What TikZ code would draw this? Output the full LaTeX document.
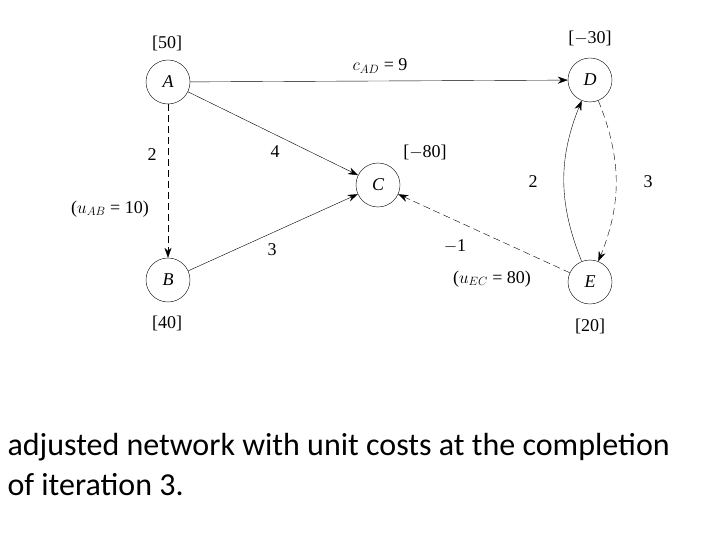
\documentclass[tikz,border=0pt]{standalone}
\usepackage{fontspec}
\setmainfont{Liberation Serif}
\newfontfamily\capfont{Carlito}
\usetikzlibrary{arrows.meta}
\begin{document}
\begin{tikzpicture}[x=1pt,y=-1pt,
  nd/.style={circle,draw,minimum size=44pt,inner sep=0pt,font=\fontsize{18}{20}\selectfont\itshape},
  lb/.style={font=\fontsize{18}{20}\selectfont},
  ar/.style={-{Stealth[length=10pt,width=7pt]},thin},
  ds/.style={dash pattern=on 7pt off 4pt}]
\useasboundingbox (0,0) rectangle (720,540);
\node[nd] (A) at (168,82) {A};
\node[nd] (D) at (590,80) {D};
\node[nd] (C) at (378,185) {C};
\node[nd] (B) at (168,280) {B};
\node[nd] (E) at (590,282) {E};
\node[lb] (la) at (167,43) {[50]};
\node[lb] (ld) at (590,38) {[$-$30]};
\node[lb] (lc) at (425,152) {[$-$80]};
\node[lb] (lbb) at (167,323) {[40]};
\node[lb] (le) at (590,326) {[20]};
\draw[ar] (A) -- (D);
\node[lb] (cad) at (380,66) {$c_{AD}$ = 9};
\draw[ar,ds] (A) -- (B);
\draw[ar] (A) -- (C);
\draw[ar] (B) -- (C);
\draw[ar,ds] (E) -- (C);
\draw[ar,ds] (D) to[bend left=22] (E);
\draw[ar] (E) to[bend left=22] (D);
\node[lb] (t1) at (152,155) {2};
\node[lb] (t2) at (110,209) {($u_{AB}$ = 10)};
\node[lb] (t3) at (275,152) {4};
\node[lb] (t4) at (272,250) {3};
\node[lb] (t5) at (533,182) {2};
\node[lb] (t6) at (648,182) {3};
\node[lb] (t7) at (455,246) {$-$1};
\node[lb] (t8) at (492,279) {($u_{EC}$ = 80)};
\node[anchor=west,font=\capfont\fontsize{32}{40}\selectfont,align=left] (cap) at (4,465)
 {adjusted network with unit costs at the completion\\of iteration 3.};
\end{tikzpicture}
\end{document}
